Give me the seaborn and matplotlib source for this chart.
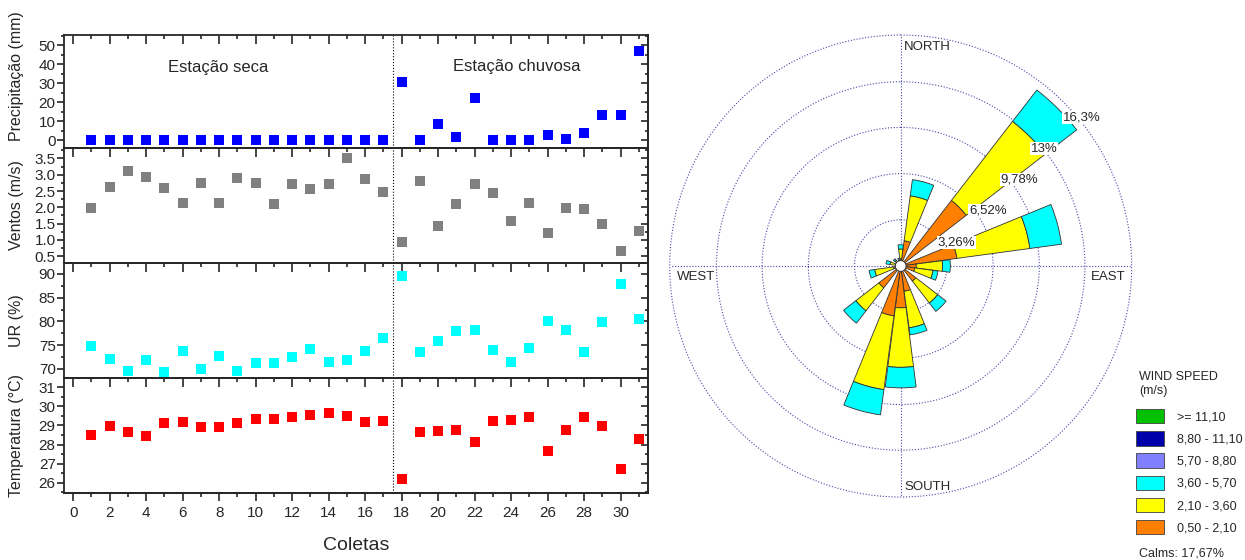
# Meteorologia: series por coleta + rosa dos ventos
import numpy as np
import matplotlib
matplotlib.use("Agg")
import matplotlib.pyplot as plt
from matplotlib.patches import Patch
from matplotlib.ticker import MultipleLocator
import seaborn as sns

# Dados das coletas
coletas = list(range(1, 32))
precipitacao = [0, 0, 0, 0, 0, 0, 0, 0, 0, 0, 0, 0, 0, 0, 0, 0, 0,
                30.5, 0, 8.3, 1.8, 22.3, 0, 0, 0, 2.6, 0.3, 3.5, 13.2, 13.2, 46.8]
ventos = [1.98, 2.63, 3.12, 2.94, 2.60, 2.12, 2.75, 2.12, 2.91, 2.76, 2.11,
          2.70, 2.56, 2.73, 3.50, 2.87, 2.48, 0.92, 2.80, 1.43, 2.09, 2.71,
          2.43, 1.59, 2.12, 1.22, 1.97, 1.94, 1.48, 0.66, 1.28]
umidade = [74.9, 72.1, 69.6, 71.8, 69.4, 73.8, 70.0, 72.8, 69.6, 71.2, 71.3,
           72.6, 74.2, 71.5, 71.8, 73.8, 76.5, 89.6, 73.6, 75.9, 77.9, 78.1,
           74.0, 71.5, 74.5, 80.0, 78.1, 73.5, 79.8, 87.9, 80.5]
temperatura = [28.50, 28.99, 28.64, 28.46, 29.11, 29.16, 28.94, 28.94, 29.11,
               29.34, 29.32, 29.46, 29.55, 29.63, 29.51, 29.16, 29.25, 26.18,
               28.66, 28.73, 28.76, 28.12, 29.23, 29.29, 29.46, 27.66, 28.76,
               29.46, 28.97, 26.72, 28.31]

# Rosa dos ventos (frequencia % por classe de velocidade)
direcoes = [0, 15, 30, 45, 60, 75, 90, 105, 120, 135, 150, 165,
            180, 195, 210, 225, 240, 255, 270, 285, 300, 315, 330, 345]
freq_050_210 = [0.5, 1.8, 0, 5.85, 0, 4.0, 1.1, 1.0, 0, 1.35, 0, 1.8,
                2.95, 3.55, 0, 1.95, 0, 0.5, 0, 0.3, 0, 0.2, 0, 0.2]
freq_210_360 = [0.7, 3.2, 0, 7.05, 0, 5.2, 1.85, 1.3, 0, 1.95, 0, 2.6,
                4.2, 5.25, 0, 2.05, 0, 1.35, 0, 0.45, 0, 0.3, 0, 0.2]
freq_360_570 = [0.3, 1.15, 0, 2.8, 0, 2.25, 0.55, 0.35, 0, 0.75, 0, 0.5,
                1.45, 1.8, 0, 1.1, 0, 0.4, 0, 0.3, 0, 0.15, 0, 0.15]
aneis = [3.26, 6.52, 9.78, 13.0, 16.3]
rotulos_aneis = ["3,26%", "6,52%", "9,78%", "13%", "16,3%"]
classes = [">= 11,10", "8,80 - 11,10", "5,70 - 8,80",
           "3,60 - 5,70", "2,10 - 3,60", "0,50 - 2,10"]
cores_classes = ["#00c000", "#0000aa", "#8080ff", "#00ffff", "#ffff00", "#ff8000"]

sns.set_style("ticks")
plt.rcParams["font.family"] = ["Liberation Sans", "DejaVu Sans"]

W, H = 1245, 560
fig = plt.figure(figsize=(W / 100, H / 100), dpi=100)

# ---- paineis da esquerda ----
gs = fig.add_gridspec(4, 1, left=64 / W, right=648 / W, top=1 - 35 / H,
                      bottom=1 - 493 / H, hspace=0, height_ratios=[113, 115, 115, 115])
paineis = [
    (precipitacao, "#0000ff", "Precipitação (mm)", (-4.2, 55.3), 10, 5),
    (ventos, "#808080", "Ventos (m/s)", (0.29, 3.82), 0.5, 0.25),
    (umidade, "#00ffff", "UR (%)", (68.1, 92.3), 5, 2.5),
    (temperatura, "#ff0000", "Temperatura (°C)", (25.46, 31.49), 1, 0.5),
]

axes = []
for i, (valores, cor, rotulo, lim, maj, mnr) in enumerate(paineis):
    ax = fig.add_subplot(gs[i])
    ax.patch.set_visible(False)
    sns.scatterplot(x=coletas, y=valores, ax=ax, color=cor, marker="s",
                    s=42, linewidth=0, zorder=3)
    ax.axvline(17.5, color="black", ls=":", lw=0.8)
    ax.set_xlim(-0.5, 31.5)
    ax.set_ylim(*lim)
    ax.xaxis.set_major_locator(MultipleLocator(2))
    ax.xaxis.set_minor_locator(MultipleLocator(1))
    ax.yaxis.set_major_locator(MultipleLocator(maj))
    ax.yaxis.set_minor_locator(MultipleLocator(mnr))
    for sp in ax.spines.values():
        sp.set_visible(True)
        sp.set_linewidth(1.3)
    ax.tick_params(axis="x", which="both", direction="in", top=True,
                   bottom=False, labelbottom=False, width=1.2)
    ax.tick_params(axis="x", which="major", length=6.5)
    ax.tick_params(axis="x", which="minor", length=3)
    ax.tick_params(axis="y", which="both", direction="out", left=True,
                   right=False, labelsize=11, width=1.2, pad=1)
    ax.tick_params(axis="y", which="major", length=5)
    ax.tick_params(axis="y", which="minor", length=2.5)
    dir_y = ax.secondary_yaxis("right")
    dir_y.yaxis.set_major_locator(MultipleLocator(maj))
    dir_y.yaxis.set_minor_locator(MultipleLocator(mnr))
    dir_y.tick_params(axis="y", which="both", direction="in", labelright=False, width=1.2)
    dir_y.tick_params(axis="y", which="major", length=5)
    dir_y.tick_params(axis="y", which="minor", length=2.5)
    dir_y.spines["right"].set_linewidth(1.3)
    ax.set_ylabel(rotulo, fontsize=11.5)
    ax.yaxis.set_label_coords(-0.068, 0.5)
    if maj == 0.5:
        ax.yaxis.set_major_formatter(matplotlib.ticker.FormatStrFormatter("%.1f"))
    axes.append(ax)

axes[0].yaxis.set_label_coords(-0.068, 0.64)

baixo = axes[-1].secondary_xaxis("bottom")
baixo.xaxis.set_major_locator(MultipleLocator(2))
baixo.xaxis.set_minor_locator(MultipleLocator(1))
baixo.tick_params(axis="x", which="both", direction="out", labelsize=11, width=1.2)
baixo.tick_params(axis="x", which="major", length=6)
baixo.tick_params(axis="x", which="minor", length=3)
baixo.spines["bottom"].set_linewidth(1.3)
baixo.set_xlabel("Coletas", fontsize=14, labelpad=12)

axes[0].text(7.93, 38.2, "Estação seca", fontsize=12, ha="center", va="center")
axes[0].text(24.3, 38.7, "Estação chuvosa", fontsize=12, ha="center", va="center")

# ---- rosa dos ventos ----
R = 231
axr = fig.add_axes([(900.7 - R) / W, 1 - (266 + R) / H, 2 * R / W, 2 * R / H],
                   projection="polar")
axr.set_theta_zero_location("N")
axr.set_theta_direction(-1)
axr.set_ylim(0, aneis[-1])
axr.grid(False)
axr.set_xticks([])
axr.set_yticks([])
axr.spines["polar"].set_visible(False)

cor_grade = "#4848a8"
tt = np.linspace(0, 2 * np.pi, 400)
for r in aneis:
    axr.plot(tt, np.full_like(tt, r), ls=(0, (1, 1.6)), color=cor_grade,
             lw=0.8, zorder=1, clip_on=False)
for ang in [0, 90, 180, 270]:
    axr.plot([np.deg2rad(ang)] * 2, [0, aneis[-1]], ls=(0, (1, 1.6)),
             color=cor_grade, lw=0.8, zorder=1, clip_on=False)

theta = np.deg2rad(direcoes)
largura = np.deg2rad(15) * 0.97
base = np.zeros(len(direcoes))
for freq, cor in [(freq_050_210, "#ff8000"), (freq_210_360, "#ffff00"),
                  (freq_360_570, "#00ffff")]:
    freq = np.array(freq)
    m = freq > 0
    axr.bar(theta[m], freq[m], width=largura, bottom=base[m], color=cor,
            edgecolor="#303030", linewidth=0.6, zorder=3)
    base = base + freq

axr.fill(tt, np.full_like(tt, 0.38), facecolor="white", edgecolor="#303030",
         lw=0.7, zorder=5)

for r, txt, b in zip(aneis, rotulos_aneis, [58, 51, 49, 48, 47.5]):
    axr.text(np.deg2rad(b), r * 0.95, txt, ha="left", va="center", fontsize=9.5,
             zorder=6, bbox=dict(facecolor="white", edgecolor="none", pad=0.4))

axr.text(0.507, 0.974, "NORTH", transform=axr.transAxes, fontsize=9.5, ha="left", va="center")
axr.text(0.507, 0.022, "SOUTH", transform=axr.transAxes, fontsize=9.5, ha="left", va="center")
axr.text(0.016, 0.476, "WEST", transform=axr.transAxes, fontsize=9.5, ha="left", va="center")
axr.text(0.9855, 0.476, "EAST", transform=axr.transAxes, fontsize=9.5, ha="right", va="center")

# legenda
fig.text(1139 / W, 1 - 377 / H, "WIND SPEED", fontsize=9, ha="left", va="center")
fig.text(1139 / W, 1 - 391 / H, "(m/s)", fontsize=9, ha="left", va="center")
alcas = [Patch(facecolor=c, edgecolor="#404040", linewidth=0.6) for c in cores_classes]
leg = fig.legend(alcas, classes, loc="upper left",
                 bbox_to_anchor=(1136 / W, 1 - 409 / H), frameon=False,
                 fontsize=9, handlelength=2.25, handleheight=1.4,
                 labelspacing=0.62, handletextpad=1.0, borderpad=0,
                 borderaxespad=0)
fig.text(1139 / W, 1 - 554 / H, "Calms: 17,67%", fontsize=9, ha="left", va="center")

fig.savefig("out.png", dpi=100)
